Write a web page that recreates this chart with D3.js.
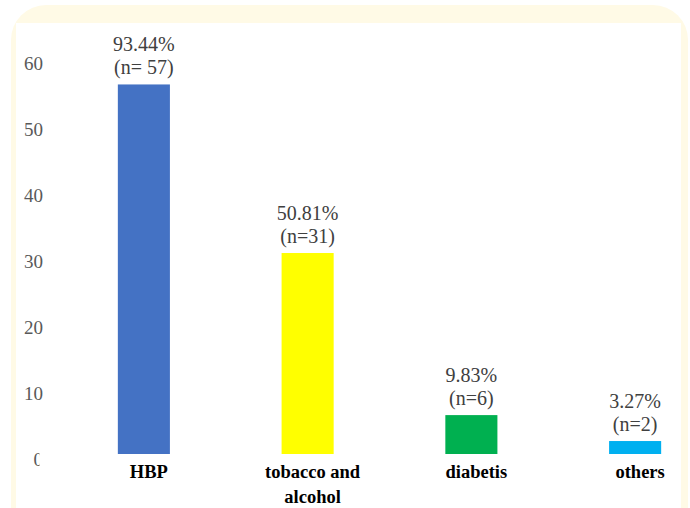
<!DOCTYPE html>
<html>
<head>
<meta charset="utf-8">
<script src="https://cdn.jsdelivr.net/npm/d3@7"></script>
<style>
  body { margin: 0; background: #ffffff; }
  svg { display: block; }
</style>
</head>
<body>
<div id="chart"></div>
<script>
// data
const categories = ['HBP', 'tobacco and alcohol', 'diabetis', 'others'];
const counts = [57, 31, 6, 2];
const percents = ['93.44%', '50.81%', '9.83%', '3.27%'];
const countLabels = ['(n= 57)', '(n=31)', '(n=6)', '(n=2)'];
const barColors = ['#4472C4', '#FFFF00', '#00B050', '#00B0F0'];
const yTicks = [0, 10, 20, 30, 40, 50, 60];

const width = 690, height = 508;
const serif = 'Liberation Serif, Times New Roman, serif';

const svg = d3.select('#chart').append('svg')
    .attr('width', width)
    .attr('height', height);

// frame: cream rounded panel with white plot area
svg.append('rect')
    .attr('x', 11).attr('y', 5)
    .attr('width', 677).attr('height', 560)
    .attr('rx', 35).attr('ry', 35)
    .attr('fill', '#FFFAE6');

svg.append('rect')
    .attr('x', 16).attr('y', 23)
    .attr('width', 665).attr('height', 500)
    .attr('fill', '#ffffff');

// scales
const x = d3.scaleBand()
    .domain(categories)
    .range([62, 717])
    .paddingInner(0.682)
    .paddingOuter(0.341);

const y = d3.scaleLinear()
    .domain([0, 60])
    .range([454, 65]);

// tick labels sit a little off the bar scale, as in the original
const yLabel = y.copy().range([459, 63.5]);

// the zero label is half hidden in the original
svg.append('defs').append('clipPath')
    .attr('id', 'zero-clip')
    .append('rect')
    .attr('x', -30).attr('y', -15)
    .attr('width', 26.5).attr('height', 30);

const yAxis = svg.append('g')
    .attr('transform', 'translate(43,0)')
    .call(d3.axisLeft(yLabel).tickValues(yTicks).tickSize(0).tickPadding(0));
yAxis.select('.domain').remove();
yAxis.attr('font-family', serif).attr('font-size', 19);
yAxis.selectAll('text')
    .attr('fill', '#595959');
yAxis.selectAll('.tick')
    .filter(d => d === 0)
    .select('text')
    .attr('clip-path', 'url(#zero-clip)');

// bars
svg.append('g')
    .selectAll('rect')
    .data(categories)
    .join('rect')
    .attr('x', d => x(d))
    .attr('y', (d, i) => y(counts[i]))
    .attr('width', x.bandwidth())
    .attr('height', (d, i) => y(0) - y(counts[i]))
    .attr('fill', (d, i) => barColors[i]);

// value labels, two lines above each bar
const cx = d => x(d) + x.bandwidth() / 2;

svg.append('g')
    .selectAll('text')
    .data(categories)
    .join('text')
    .attr('text-anchor', 'middle')
    .attr('font-family', serif)
    .attr('font-size', 20)
    .attr('fill', '#404040')
    .attr('x', cx)
    .attr('y', (d, i) => y(counts[i]) - 33)
    .text((d, i) => percents[i]);

svg.append('g')
    .selectAll('text')
    .data(categories)
    .join('text')
    .attr('text-anchor', 'middle')
    .attr('font-family', serif)
    .attr('font-size', 20)
    .attr('fill', '#404040')
    .attr('x', cx)
    .attr('y', (d, i) => y(counts[i]) - 10.5)
    .text((d, i) => countLabels[i]);

// category labels, wrapped like the original
const catLines = categories.flatMap(c => {
    const lines = c === 'tobacco and alcohol' ? ['tobacco and', 'alcohol'] : [c];
    return lines.map((line, j) => ({ line, cat: c, row: j }));
});

svg.append('g')
    .selectAll('text')
    .data(catLines)
    .join('text')
    .attr('text-anchor', 'middle')
    .attr('font-family', serif)
    .attr('font-weight', 'bold')
    .attr('font-size', 18.5)
    .attr('fill', '#000000')
    .attr('x', d => cx(d.cat) + 5)
    .attr('y', d => 478 + d.row * 25)
    .text(d => d.line);
</script>
</body>
</html>
